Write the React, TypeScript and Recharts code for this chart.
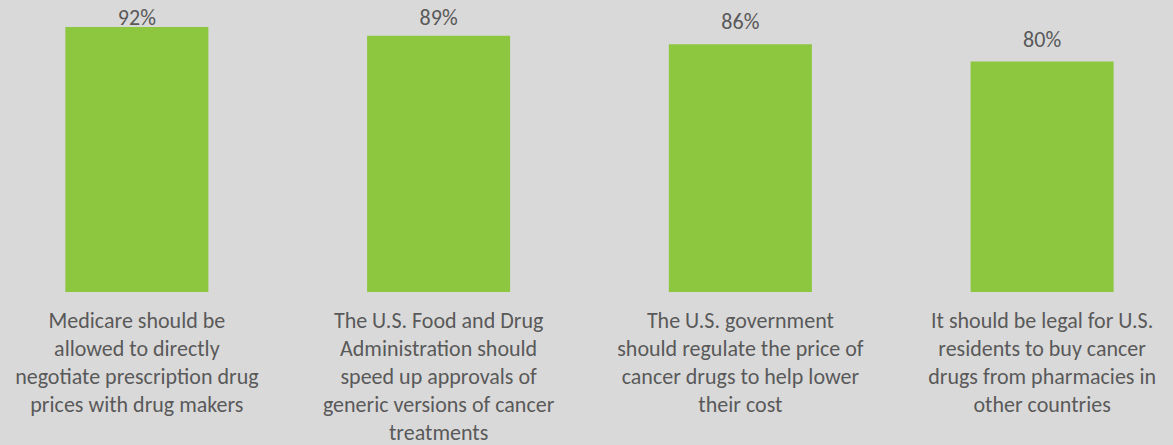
import { BarChart, Bar, XAxis, YAxis, LabelList } from "recharts";

const categories = [
  "Medicare should be allowed to directly negotiate prescription drug prices with drug makers",
  "The U.S. Food and Drug Administration should speed up approvals of generic versions of cancer treatments",
  "The U.S. government should regulate the price of cancer drugs to help lower their cost",
  "It should be legal for U.S. residents to buy cancer drugs from pharmacies in other countries",
];

const categoryLines = [
  ["Medicare should be", "allowed to directly", "negotiate prescription drug", "prices with drug makers"],
  ["The U.S. Food and Drug", "Administration should", "speed up approvals of", "generic versions of cancer", "treatments"],
  ["The U.S. government", "should regulate the price of", "cancer drugs to help lower", "their cost"],
  ["It should be legal for U.S.", "residents to buy cancer", "drugs from pharmacies in", "other countries"],
];

const agreePct = [92, 89, 86, 80];

const data = categories.map((name, i) => ({ name, value: agreePct[i] }));

const FONT = "Carlito, Calibri, Lato, sans-serif";
const TEXT = "#595959";

function CategoryTick(props: any) {
  const { x, y, payload } = props;
  const lines = categoryLines[categories.indexOf(payload.value)] || [payload.value];
  return (
    <text x={x} y={y + 28} textAnchor="middle" fill={TEXT} fontSize={22} fontFamily={FONT}>
      {lines.map((l, i) => (
        <tspan key={i} x={x} dy={i === 0 ? 0 : 28}>
          {l}
        </tspan>
      ))}
    </text>
  );
}

function ValueLabel(props: any) {
  const { x, y, width, value } = props;
  const base = Math.max(y - 15, 25);
  return (
    <text x={x + width / 2} y={base} textAnchor="middle" fill={TEXT} fontSize={22} fontFamily={FONT}>
      {value}%
    </text>
  );
}

export default function App() {
  return (
    <div
      style={{
        position: "absolute",
        left: 0,
        top: 0,
        width: 1173,
        height: 445,
        background: "#d9d9d9",
        overflow: "hidden",
      }}
    >
      <div style={{ position: "absolute", left: -14, top: 0 }}>
        <BarChart width={1207} height={445} data={data} margin={{ top: 4, right: 0, bottom: 0, left: 0 }} barCategoryGap="26.3%">
          <XAxis dataKey="name" axisLine={false} tickLine={false} interval={0} height={153} tick={<CategoryTick />} />
          <YAxis hide domain={[0, 100]} />
          <Bar dataKey="value" fill="#8dc63f" isAnimationActive={false}>
            <LabelList dataKey="value" content={<ValueLabel />} />
          </Bar>
        </BarChart>
      </div>
    </div>
  );
}
